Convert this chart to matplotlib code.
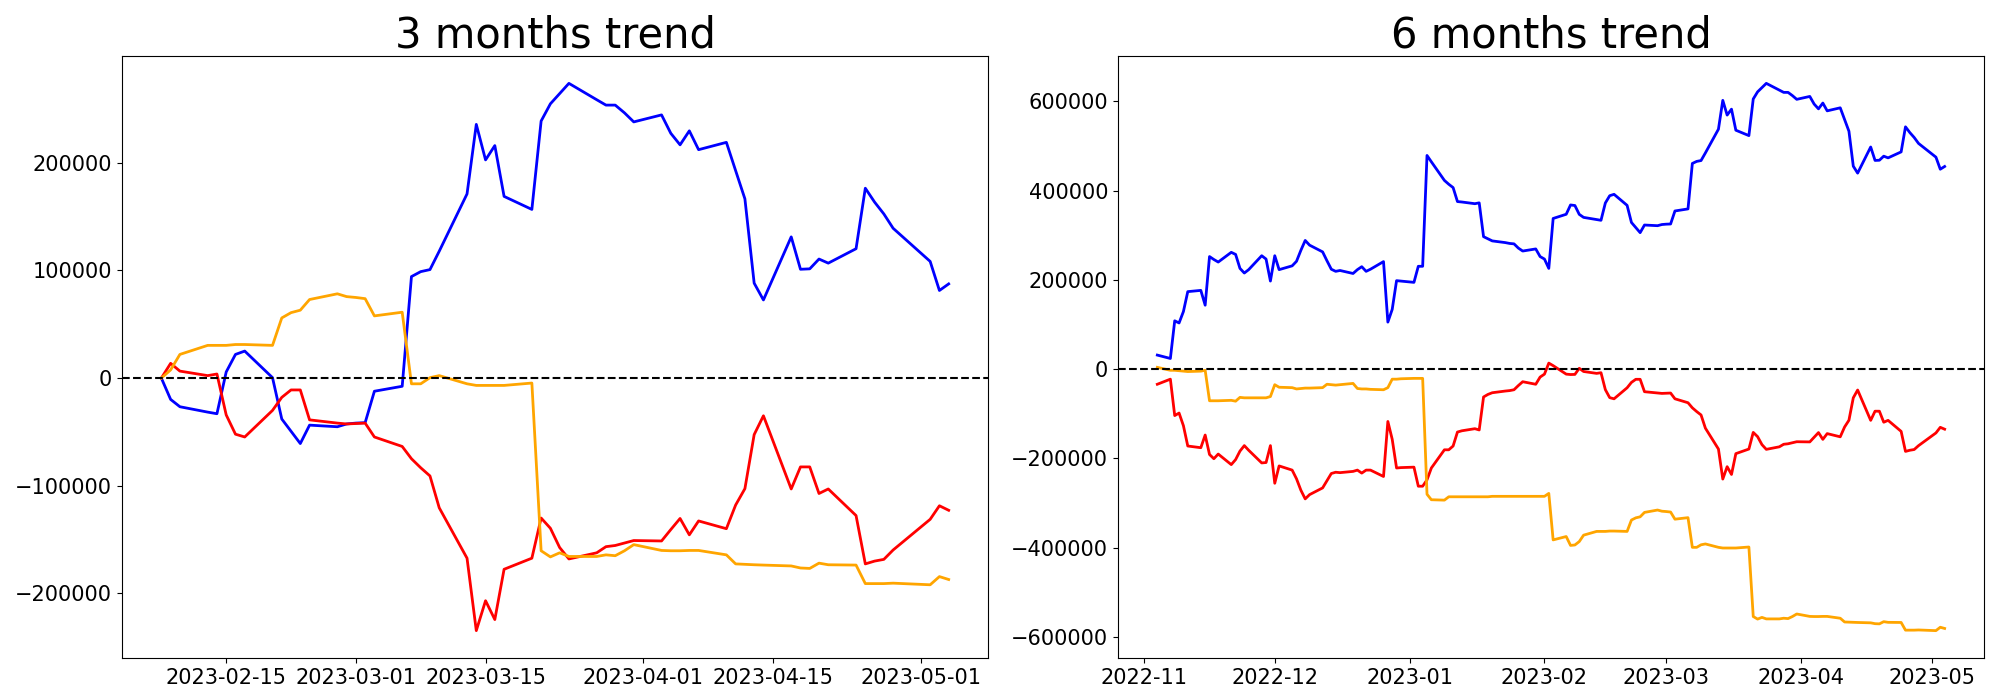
import pandas as pd
import matplotlib.pyplot as plt
import matplotlib.dates as mdates

# trading days, 1 May has no quote
dates_3m = pd.bdate_range("2023-02-08", "2023-05-04").drop(pd.Timestamp("2023-05-01"))
dates_6m = pd.bdate_range("2022-11-04", "2023-05-04").drop(pd.Timestamp("2023-05-01"))

# 3 months window (cumulative from 2023-02-08)
blue_3m = [
    0, -19800, -26600, -31600, -33100, 5700, 22000, 25100, 400, -38000, -49400, -60800, -43700, -45200, -42600,
    -41800, -41400, -12200, -7600, 94300, 98900, 100800, 117900, 171100, 235700, 202700, 216000, 168800,
    156700, 238800, 254800, 264300, 273800, 258600, 253600, 253600, 246400, 238000,
    244500, 227400, 216700, 229700, 212200, 219000, 192700, 166500, 88200, 72600, 131200, 101100, 101500,
    110600, 106800, 120200, 176400, 163500, 152500, 139200,
    108400, 81400, 87500,
]
red_3m = [
    0, 13700, 6500, 2300, 3800, -34200, -52100, -54700, -30000, -17900, -11000, -11000, -38800, -41800, -42600,
    -42200, -41800, -54700, -63500, -74900, -83300, -90900, -120500, -167300, -234600, -206800, -224300, -177600,
    -167300, -130000, -139500, -157400, -168000, -162300, -156600, -155500, -153200, -150900,
    -151300, -140700, -130400, -145600, -132700, -139900, -117900, -102700, -52500, -35000, -103000, -82500, -82500,
    -107200, -103000, -127700, -172600, -170000, -168400, -159700,
    -131200, -118600, -122800,
]
orange_3m = [
    0, 7600, 22000, 30400, 30400, 30400, 31200, 31200, 30400, 55900, 60800, 63100, 73000, 78300, 75700,
    74900, 73800, 57800, 61200, -5300, -5300, 400, 2300, -5300, -6800, -6800, -6800, -6800,
    -4600, -160400, -166100, -162300, -165700, -165700, -164200, -165000, -160400, -154700,
    -160100, -160400, -160400, -160100, -160100, -164200, -172600, -173000, -173400, -173700, -174500, -176400, -176800,
    -171900, -173400, -173700, -190900, -190900, -190900, -190500,
    -192000, -184400, -187100,
]

# 6 months window (cumulative from 2022-11-04)
blue_6m = [
    31300, 23700, 108100, 103300, 128900, 173500, 176300, 143100, 252100, 245500, 239800, 261600, 256900,
    225600, 215200, 222800, 254000, 246500, 197200,
    254000, 222800, 231300, 241500, 266000, 288200, 277700, 262600, 242700, 223700, 219000, 220900, 214200,
    222800, 229400, 219000, 223700, 240800, 105200, 133700, 198100, 197200,
    194300, 230300, 230300, 478700, 464500, 422800, 414200, 406700, 375400, 374400, 370600, 372500, 296700,
    292000, 287200, 283400, 281500, 280600, 271100, 264500, 269200, 252100,
    246500, 225600, 337500, 346900, 367800,
    366500, 346700, 339900, 334900, 333400, 372200, 388500, 391600, 366900, 328500, 317100, 305700, 322800,
    321300, 323900,
    324700, 325100, 354300, 358900, 460800, 465400, 467300, 484400, 537600, 602200, 569200, 582500, 535300,
    523200, 605300, 621300, 630800, 640300, 625100, 620100, 620100, 612900, 604500,
    611000, 593900, 583200, 596200, 578700, 585500, 559200, 533000, 454700, 439100, 497700, 467600, 468000,
    477100, 473300, 486700, 542900, 530000, 519000, 505700,
    474900, 447900, 454000,
]
red_6m = [
    -34100, -22700, -104300, -98600, -127000, -172500, -176300, -147900, -191500, -201000, -190500, -214200,
    -202900, -183900, -171600, -182000, -210400, -209500, -171600,
    -256000, -217100, -226500, -246000, -271500, -291000, -281500, -266400, -250300, -234100, -231300, -232200,
    -229400, -226500, -233200, -226500, -226500, -240800, -117500, -157400, -221800, -220900,
    -219900, -262600, -262600, -248300, -221800, -181000, -181000, -172500, -141200, -138400, -133700, -136500,
    -62600, -56900, -53100, -49300, -48300, -46400, -37000, -28400, -34100, -18000,
    -11400, 13300, 7600, -11400, -12300,
    -12000, 1700, -5500, -9700, -8200, -46200, -64100, -66700, -42000, -29900, -23000, -23000, -50800,
    -53800, -54600,
    -54200, -53800, -66700, -75500, -86900, -95300, -102900, -132500, -179300, -246600, -218800, -236300,
    -189600, -179300, -142000, -151500, -169400, -180000, -174300, -168600, -167500, -165200, -162900,
    -163300, -152700, -142400, -157600, -144700, -151900, -129900, -114700, -64500, -47000, -115000, -94500,
    -94500, -119200, -115000, -139700, -184600, -182000, -180400, -171700,
    -143200, -130600, -134800,
]
orange_6m = [
    3800, -2800, -2800, -3800, -4700, -5600, -4700, -2800, -71100, -71100, -71100, -70100, -72000, -63500,
    -64500, -64500, -64500, -64500, -61600,
    -35100, -40800, -41700, -44600, -43600, -42700, -42700, -41700, -34100, -35100, -36000, -35100, -32200,
    -43600, -44600, -44600, -45500, -46400, -41700, -22700, -22700, -21800,
    -20900, -20900, -20900, -280600, -292900, -293800, -286300, -286300, -286300, -286300, -286300, -286300,
    -286300, -286300, -285300, -285300, -285300, -285300, -285300, -285300, -285300, -285300,
    -285300, -278700, -382900, -375400, -395300,
    -394300, -386700, -372300, -363900, -363900, -363900, -363100, -363100, -363900, -338400, -333500,
    -331200, -321300, -316000, -318600,
    -319400, -320500, -336500, -333100, -399600, -399600, -393900, -392000, -399600, -401100, -401100,
    -401100, -401100, -398900, -554700, -560400, -556600, -560000, -560000, -558500, -559300, -554700, -549000,
    -554400, -554700, -554700, -554400, -554400, -558500, -566900, -567300, -567700, -568000, -568800,
    -570700, -571100, -566200, -567700, -568000, -585200, -585200, -585200, -584800,
    -586300, -578700, -581400,
]

titles = ["3 months trend", "6 months trend"]

fig, axes = plt.subplots(1, 2, figsize=(20, 7), dpi=100)

panels = [
    (dates_3m, blue_3m, red_3m, orange_3m),
    (dates_6m, blue_6m, red_6m, orange_6m),
]
for ax, title, (dates, blue, red, orange) in zip(axes, titles, panels):
    ax.plot(dates, blue, color="blue", linewidth=2)
    ax.plot(dates, red, color="red", linewidth=2)
    ax.plot(dates, orange, color="orange", linewidth=2)
    ax.axhline(0, color="black", linestyle="--", linewidth=1.5)
    ax.set_title(title, fontsize=30)
    ax.tick_params(labelsize=15)

axes[0].xaxis.set_major_locator(mdates.DayLocator(bymonthday=[1, 15]))
axes[0].xaxis.set_major_formatter(mdates.DateFormatter("%Y-%m-%d"))
axes[1].xaxis.set_major_locator(mdates.MonthLocator())
axes[1].xaxis.set_major_formatter(mdates.DateFormatter("%Y-%m"))

plt.subplots_adjust(left=0.061, right=0.992, bottom=0.06, top=0.92, wspace=0.15)
plt.savefig("out.png")
